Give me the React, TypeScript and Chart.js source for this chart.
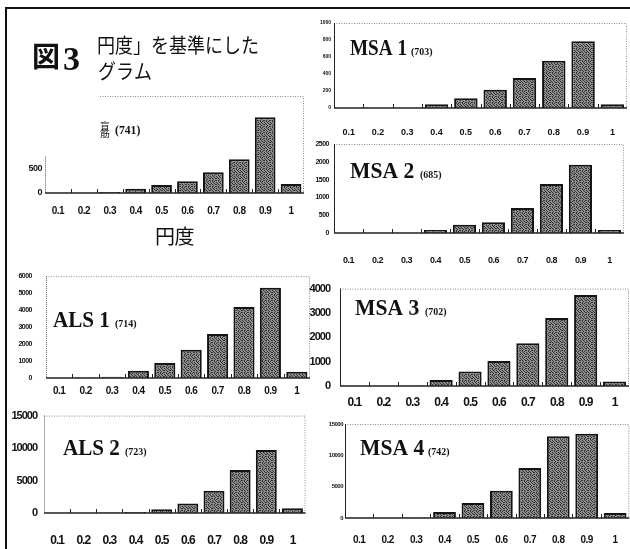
import { useEffect, useRef } from "react";
import { Chart, registerables } from "chart.js";

Chart.register(...registerables);

// Circularity classes on the x axis of every histogram
const circularity = ["0.1", "0.2", "0.3", "0.4", "0.5", "0.6", "0.7", "0.8", "0.9", "1"];

// Counts per circularity class
const controlCounts = [3, 5, 20, 90, 167, 243, 430, 694, 1560, 187];
const als1Counts = [10, 25, 70, 430, 890, 1670, 2600, 4180, 5320, 370];
const als2Counts = [20, 40, 60, 150, 590, 1480, 3440, 6640, 9690, 740];
const msa1Counts = [1, 3, 4, 43, 114, 216, 353, 557, 784, 43];
const msa2Counts = [3, 5, 8, 84, 234, 299, 701, 1374, 1916, 84];
const msa3Counts = [5, 10, 20, 248, 600, 1030, 1760, 2790, 3740, 182];
const msa4Counts = [20, 40, 60, 960, 2390, 4360, 7980, 13030, 13460, 800];

// Case names and the numbers shown beside them
const caseNames = ["ALS 1", "ALS 2", "MSA 1", "MSA 2", "MSA 3", "MSA 4"];
const caseNumbers = ["(714)", "(723)", "(703)", "(685)", "(702)", "(742)"];
const controlNumber = "(741)";

const SANS = "'Liberation Sans', Arial, sans-serif";
const SERIF = "'Liberation Serif', 'DejaVu Serif', serif";
const CJK = "'Noto Sans CJK JP', 'Noto Sans CJK SC', sans-serif";

type Note = { text: string; x: number; y: number; font: string; sx?: number };

type Panel = {
  key: string;
  values: number[];
  box: [number, number, number, number]; // canvas left, top, width, height
  plot: [number, number, number, number]; // plot left, top, right, zero line
  yMax: number;
  yStep: number;
  yLabelMax?: number;
  axisTop?: number;
  axisDotted?: boolean;
  frameLeft?: number;
  xFont: number;
  xPad: number;
  yFont: number;
  yPad: number;
  tight: number; // letter spacing of tick labels, px
  xTitle?: string;
  notes: Note[];
};

const caseLabel = (i: number, x: number, base: number, sx: number, gap: number): Note[] => [
  { text: caseNames[i], x, y: base, font: `bold 24px ${SERIF}`, sx },
  { text: caseNumbers[i], x: x + gap, y: base, font: `bold 11px ${SERIF}`, sx: 0.9 },
];

const panels: Panel[] = [
  {
    key: "control",
    values: controlCounts,
    box: [0, 0, 312, 250],
    plot: [45, 96, 304, 193],
    yMax: 2000,
    yStep: 500,
    yLabelMax: 500,
    axisTop: 750,
    axisDotted: true,
    frameLeft: 100,
    xFont: 10,
    xPad: 12,
    yFont: 9,
    yPad: 3,
    tight: -0.5,
    xTitle: "円度",
    notes: [
      { text: "図", x: 32, y: 67, font: `bold 28px ${CJK}` },
      { text: "3", x: 63, y: 70, font: `bold 34px ${SERIF}` },
      { text: "円度」を基準にした", x: 97, y: 53, font: `20px ${CJK}`, sx: 0.9 },
      { text: "グラム", x: 98, y: 79, font: `20px ${CJK}`, sx: 0.9 },
      { text: "盲", x: 100, y: 129, font: `9px ${CJK}`, sx: 1.1 },
      { text: "筋", x: 100, y: 137, font: `9px ${CJK}`, sx: 1.1 },
      { text: controlNumber, x: 115, y: 134, font: `bold 13px ${SERIF}`, sx: 0.9 },
    ],
  },
  {
    key: "als1",
    values: als1Counts,
    box: [8, 258, 306, 144],
    plot: [46, 270, 310, 378],
    yMax: 6000,
    yStep: 1000,
    axisDotted: true,
    xFont: 10,
    xPad: 7,
    yFont: 7,
    yPad: 14,
    tight: -0.5,
    notes: caseLabel(0, 53, 327, 0.88, 62),
  },
  {
    key: "als2",
    values: als2Counts,
    box: [8, 402, 308, 147],
    plot: [44, 412, 312, 513],
    yMax: 15000,
    yStep: 5000,
    axisDotted: true,
    xFont: 12,
    xPad: 20,
    yFont: 11,
    yPad: 7,
    tight: -1,
    notes: caseLabel(1, 63, 455, 0.88, 62),
  },
  {
    key: "msa1",
    values: msa1Counts,
    box: [310, 12, 324, 128],
    plot: [334, 23, 632, 108],
    yMax: 1000,
    yStep: 200,
    xFont: 9,
    xPad: 19,
    yFont: 5,
    yPad: 3,
    tight: 0,
    notes: caseLabel(2, 350, 55, 0.8, 61),
  },
  {
    key: "msa2",
    values: msa2Counts,
    box: [310, 134, 324, 136],
    plot: [334, 144, 632, 233],
    yMax: 2500,
    yStep: 500,
    xFont: 9,
    xPad: 22,
    yFont: 7,
    yPad: 5,
    tight: -0.5,
    notes: caseLabel(3, 350, 178, 0.9, 70),
  },
  {
    key: "msa3",
    values: msa3Counts,
    box: [298, 272, 336, 140],
    plot: [340, 283, 629, 386],
    yMax: 4000,
    yStep: 1000,
    xFont: 12,
    xPad: 9,
    yFont: 11,
    yPad: 10,
    tight: -1,
    notes: caseLabel(4, 355, 315, 0.9, 70),
  },
  {
    key: "msa4",
    values: msa4Counts,
    box: [318, 414, 316, 135],
    plot: [345, 424, 632, 518],
    yMax: 15000,
    yStep: 5000,
    xFont: 10,
    xPad: 16,
    yFont: 6,
    yPad: 2,
    tight: -0.5,
    notes: caseLabel(5, 360, 455, 0.9, 68),
  },
];

// Mottled grey stipple used to fill the bars
function stipple(): CanvasPattern | string {
  const c = document.createElement("canvas");
  const dots = [
    "DLDLLD",
    "LLDLDL",
    "DLLDLL",
    "LDLLDL",
    "DLDLLD",
    "LLLDLL",
  ];
  c.width = 6;
  c.height = 6;
  const g = c.getContext("2d");
  if (!g) return "#6e6e6e";
  dots.forEach((row, y) =>
    row.split("").forEach((v, x) => {
      g.fillStyle = v === "D" ? "#343434" : "#8e8e8e";
      g.fillRect(x, y, 1, 1);
    })
  );
  return g.createPattern(c, "repeat") ?? "#6e6e6e";
}

// Condensed tick text, dotted plot frame, axis lines, class ticks and text notes
const panelDecor = {
  id: "panelDecor",
  beforeDraw(chart: any, _args: any, opts: any) {
    chart.ctx.letterSpacing = `${opts.tight}px`;
  },
  afterDatasetsDraw(chart: any, _args: any, opts: any) {
    const { ctx, chartArea: a } = chart;
    const [ox, oy] = opts.origin;
    ctx.save();
    ctx.letterSpacing = "0px";

    ctx.strokeStyle = "#8a8a8a";
    ctx.lineWidth = 1;
    ctx.setLineDash([1, 1.5]);
    ctx.beginPath();
    const fl = opts.frameLeft != null ? opts.frameLeft - ox : a.left;
    ctx.moveTo(fl, a.top + 0.5);
    ctx.lineTo(a.right - 0.5, a.top + 0.5);
    ctx.lineTo(a.right - 0.5, a.bottom);
    ctx.stroke();

    const ys = chart.scales.y;
    const axTop = opts.axisTop != null ? ys.getPixelForValue(opts.axisTop) : a.top;
    ctx.setLineDash(opts.axisDotted ? [1, 1] : []);
    ctx.strokeStyle = opts.axisDotted ? "#555" : "#222";
    ctx.beginPath();
    ctx.moveTo(a.left + 0.5, axTop);
    ctx.lineTo(a.left + 0.5, a.bottom);
    ctx.stroke();

    ctx.setLineDash([]);
    ctx.strokeStyle = "#222";
    ctx.lineWidth = 1.5;
    ctx.beginPath();
    ctx.moveTo(a.left, a.bottom);
    ctx.lineTo(a.right, a.bottom);
    ctx.stroke();

    const n = circularity.length;
    const step = (a.right - a.left) / n;
    ctx.lineWidth = 1;
    ctx.beginPath();
    for (let i = 1; i < n; i++) {
      const px = Math.round(a.left + i * step) + 0.5;
      ctx.moveTo(px, a.bottom);
      ctx.lineTo(px, a.bottom - 4);
    }
    ctx.stroke();

    ctx.fillStyle = "#111";
    ctx.textBaseline = "alphabetic";
    ctx.textAlign = "left";
    for (const note of opts.notes as Note[]) {
      ctx.save();
      ctx.translate(note.x - ox, note.y - oy);
      ctx.scale(note.sx ?? 1, 1);
      ctx.font = note.font;
      ctx.fillText(note.text, 0, 0);
      ctx.restore();
    }
    ctx.restore();
  },
};

function buildConfig(p: Panel): any {
  const [cx, cy, cw, ch] = p.box;
  const [pl, pt, pr, pb] = p.plot;
  return {
    type: "bar",
    data: {
      labels: circularity,
      datasets: [
        {
          data: p.values,
          backgroundColor: stipple(),
          borderColor: "#141414",
          borderWidth: 2,
          barPercentage: 0.8,
          categoryPercentage: 1,
        },
      ],
    },
    options: {
      animation: false,
      responsive: false,
      maintainAspectRatio: false,
      devicePixelRatio: 1,
      events: [],
      layout: { padding: { left: 0, top: pt - cy, right: cx + cw - pr, bottom: 0 } },
      plugins: {
        legend: { display: false },
        tooltip: { enabled: false },
        panelDecor: {
          origin: [cx, cy],
          frameLeft: p.frameLeft,
          axisTop: p.axisTop,
          axisDotted: p.axisDotted,
          tight: p.tight,
          notes: p.notes,
        },
      },
      scales: {
        x: {
          grid: { display: false, drawTicks: false },
          border: { display: false },
          ticks: {
            color: "#111",
            font: { family: SANS, size: p.xFont, weight: "bold" },
            padding: p.xPad,
            maxRotation: 0,
            autoSkip: false,
          },
          title: p.xTitle
            ? {
                display: true,
                text: p.xTitle,
                color: "#111",
                font: { family: CJK, size: 20 },
                padding: { top: 0, bottom: 2 },
              }
            : { display: false },
          afterFit: (s: any) => {
            s.height = cy + ch - pb;
          },
        },
        y: {
          min: 0,
          max: p.yMax,
          grid: { display: false, drawTicks: false },
          border: { display: false },
          ticks: {
            stepSize: p.yStep,
            color: "#111",
            font: { family: SANS, size: p.yFont, weight: "bold" },
            padding: p.yPad,
            callback: (v: any) =>
              p.yLabelMax != null && Number(v) > p.yLabelMax ? "" : String(v),
          },
          afterFit: (s: any) => {
            s.width = pl - cx;
          },
        },
      },
    },
    plugins: [panelDecor],
  };
}

function PanelChart({ p }: { p: Panel }) {
  const ref = useRef<HTMLCanvasElement>(null);
  useEffect(() => {
    if (!ref.current) return;
    const chart = new Chart(ref.current, buildConfig(p));
    return () => chart.destroy();
  }, [p]);
  const [cx, cy, cw, ch] = p.box;
  return (
    <canvas
      ref={ref}
      width={cw}
      height={ch}
      style={{ position: "absolute", left: cx, top: cy, width: cw, height: ch }}
    />
  );
}

export default function App() {
  return (
    <div
      style={{
        position: "fixed",
        left: 0,
        top: 0,
        width: 630,
        height: 549,
        background: "#fff",
        overflow: "hidden",
      }}
    >
      {panels.map((p) => (
        <PanelChart key={p.key} p={p} />
      ))}
      <div style={{ position: "absolute", left: 5, top: 7, width: 625, height: 2, background: "#111" }} />
      <div style={{ position: "absolute", left: 5, top: 7, width: 2, height: 542, background: "#111" }} />
    </div>
  );
}
